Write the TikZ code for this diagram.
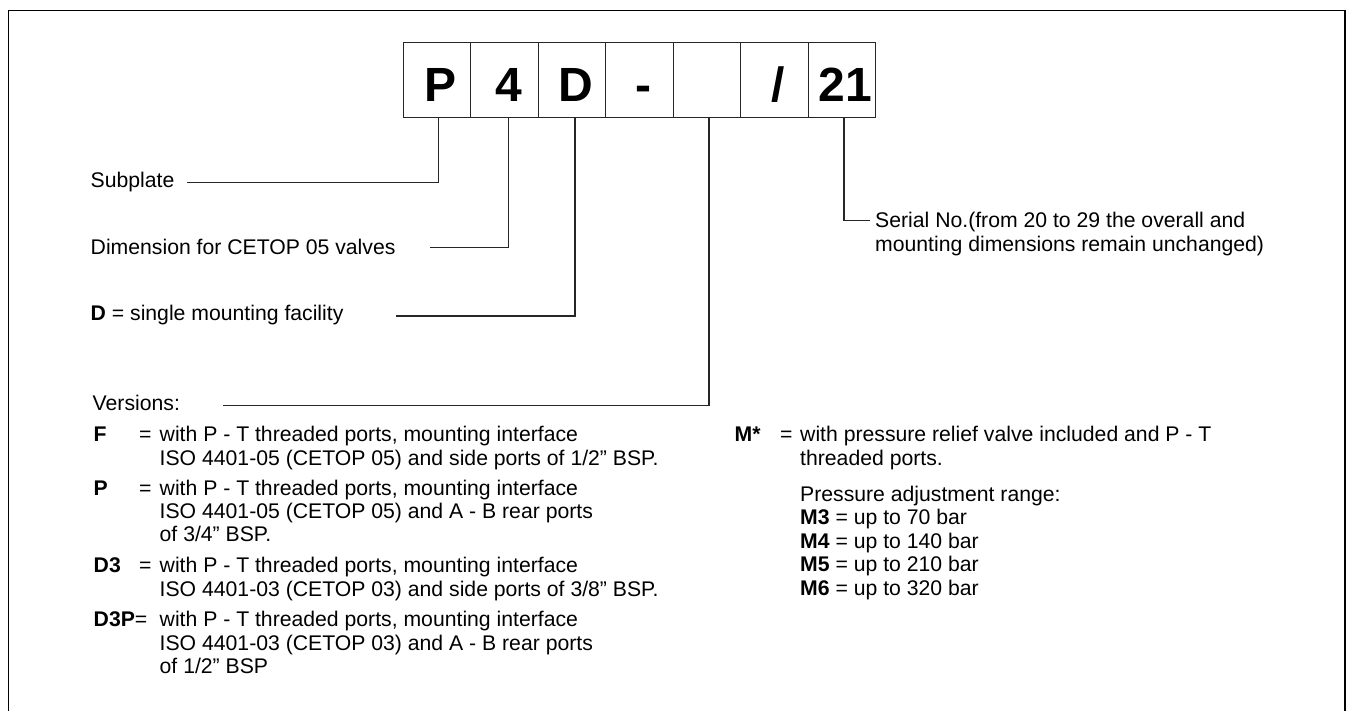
\documentclass[tikz,border=0pt]{standalone}
\usepackage{fontspec}
\setmainfont{Liberation Sans}
\begin{document}
\begin{tikzpicture}[x=1pt,y=-1pt,
  txt/.style={font=\fontsize{21.2}{23.4}\selectfont, inner sep=0pt, anchor=base west},
  codebox/.style={draw=black!85, line width=1.3pt, minimum width=67.5pt, minimum height=75pt, inner sep=0pt, outer sep=0pt},
  codetxt/.style={font=\fontsize{48}{50}\selectfont\bfseries, inner sep=0pt, anchor=base},
  conn/.style={draw=black!85, line width=1.2pt},
  framestyle/.style={draw=black, line width=1.6pt}]
\useasboundingbox (0,0) rectangle (1349,711);
\draw[framestyle] (8.5,716) -- (8.5,10.5) -- (1345,10.5) -- (1345,716);

% code boxes
\node[codebox] (b1) at (437.05,80.2) {};
\node[codebox] (b2) at (504.55,80.2) {};
\node[codebox] (b3) at (572.05,80.2) {};
\node[codebox] (b4) at (639.55,80.2) {};
\node[codebox] (b5) at (707.05,80.2) {};
\node[codebox] (b6) at (774.55,80.2) {};
\node[codebox] (b7) at (842.05,80.2) {};
\node[codetxt] (t1) at (441,101.7) {P};
\node[codetxt] (t2) at (508.5,101.7) {4};
\node[codetxt] (t3) at (576,101.7) {D};
\node[codetxt] (t4) at (643.5,101.7) {-};
\node[codetxt] (t6) at (778.5,101.7) {/};
\node[codetxt] (t7) at (845,101.7) {21};

% labels
\node[txt] (sub) at (90.5,188) {Subplate};
\node[txt] (dim) at (90.5,254.5) {Dimension for CETOP 05 valves};
\node[txt] (dsing) at (90.5,320.5) {\textbf{D} = single mounting facility};
\node[txt] (ver) at (92.5,410.7) {Versions:};
\node[txt] (ser1) at (875,228) {Serial No.(from 20 to 29 the overall and};
\node[txt] (ser2) at (875,251.7) {mounting dimensions remain unchanged)};

% connectors
\coordinate (c1) at (186.7,182.7);
\coordinate (c2) at (430,247.3);
\coordinate (c3) at (396,316);
\coordinate (c5) at (223.3,405.5);
\coordinate (c7) at (870,220.7);
\draw[conn] ([xshift=1.3pt]b1.south) |- (c1);
\draw[conn] ([xshift=4pt]b2.south) |- (c2);
\draw[conn] ([xshift=3pt]b3.south) |- (c3);
\draw[conn] ([xshift=2pt]b5.south) |- (c5);
\draw[conn] ([xshift=2pt]b7.south) |- (c7);

% versions
\node[txt] (fl) at (93.5,441.7) {\textbf{F}};
\node[txt] (feq) at (139,441.7) {=};
\node[txt] (f1) at (159.5,441.7) {with P - T threaded ports, mounting interface};
\node[txt] (f2) at (159.5,465) {ISO 4401-05 (CETOP 05) and side ports of 1/2” BSP.};

\node[txt] (pl) at (93.5,495) {\textbf{P}};
\node[txt] (peq) at (139,495) {=};
\node[txt] (p1) at (159.5,495) {with P - T threaded ports, mounting interface};
\node[txt] (p2) at (159.5,518.3) {ISO 4401-05 (CETOP 05) and A - B rear ports};
\node[txt] (p3) at (159.5,541.7) {of 3/4” BSP.};

\node[txt] (dl) at (93.5,572.7) {\textbf{D3}};
\node[txt] (deq) at (139,572.7) {=};
\node[txt] (d1) at (159.5,572.7) {with P - T threaded ports, mounting interface};
\node[txt] (d2) at (159.5,596) {ISO 4401-03 (CETOP 03) and side ports of 3/8” BSP.};

\node[txt] (dpl) at (93.5,626.7) {\textbf{D3P}=};
\node[txt] (dp1) at (159.5,626.7) {with P - T threaded ports, mounting interface};
\node[txt] (dp2) at (159.5,650) {ISO 4401-03 (CETOP 03) and A - B rear ports};
\node[txt] (dp3) at (159.5,673.3) {of 1/2” BSP};

% M block
\node[txt] (ml) at (734.5,441.7) {\textbf{M*}};
\node[txt] (meq) at (780,441.7) {=};
\node[txt] (m1) at (800,441.7) {with pressure relief valve included and P - T};
\node[txt] (m2) at (800,465) {threaded ports.};
\node[txt] (m3) at (800,501) {Pressure adjustment range:};
\node[txt] (m4) at (800,524.5) {\textbf{M3} = up to 70 bar};
\node[txt] (m5) at (800,548) {\textbf{M4} = up to 140 bar};
\node[txt] (m6) at (800,571.5) {\textbf{M5} = up to 210 bar};
\node[txt] (m7) at (800,595) {\textbf{M6} = up to 320 bar};
\end{tikzpicture}
\end{document}
